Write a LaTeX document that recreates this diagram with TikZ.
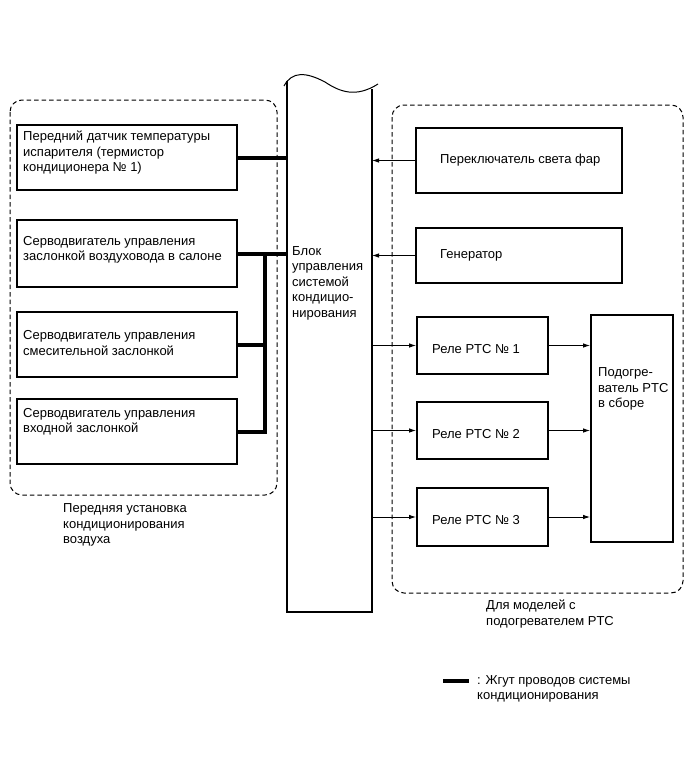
\documentclass[tikz,border=0pt]{standalone}
\usepackage{fontspec}
\setmainfont{Liberation Sans}
\usetikzlibrary{arrows.meta,positioning,calc}

\begin{document}
\begin{tikzpicture}[
  x=1pt, y=-1pt,
  font=\fontsize{13}{15.5}\selectfont,
  blk/.style={draw, line width=1.8pt, inner sep=0pt},
  txt/.style={align=left, anchor=west, inner sep=0pt},
  grp/.style={dash pattern=on 4.5pt off 3pt, line width=1pt, rounded corners=12pt},
  harness/.style={line width=4pt},
  sig/.style={-{Latex[length=7pt,width=4.5pt]}, line width=0.9pt},
]
\useasboundingbox (0,0) rectangle (691,760);
% groups
\draw[grp] (10,100) rectangle (277,495);
\draw[grp] (392,105) rectangle (683,593);
% control unit (open top)
\coordinate (ecuL) at (287,0);
\coordinate (ecuR) at (372,0);
\draw[line width=1.8pt] (287,81) -- (287,612) -- (372,612) -- (372,89);
\draw[line width=1pt] (284,86) .. controls (292,71) and (306,72) .. (325,82)
  .. controls (340,92) and (356,98) .. (378,84);
\node[txt] (ecu-t) at (292,283) {Блок\\управления\\системой\\кондицио-\\нирования};
% front unit
\node[blk, minimum width=220, minimum height=65] (sensor) at (127,157.5) {};
\node[blk, minimum width=220, minimum height=67] (srv1) at (127,253.5) {};
\node[blk, minimum width=220, minimum height=65] (srv2) at (127,344.5) {};
\node[blk, minimum width=220, minimum height=65] (srv3) at (127,431.5) {};
\node[txt] (sensor-t) at (23,153) {Передний датчик температуры\\испарителя (термистор\\кондиционера № 1)};
\node[txt] (srv1-t) at (23,250) {Серводвигатель управления\\заслонкой воздуховода в салоне};
\node[txt] (srv2-t) at (23,343) {Серводвигатель управления\\смесительной заслонкой};
\node[txt] (srv3-t) at (23,422) {Серводвигатель управления\\входной заслонкой};
\node[txt] (front-t) at (63,525) {Передняя установка\\кондиционирования\\воздуха};
% harness
\coordinate (bus) at (265,0);
\draw[harness] (sensor.east) -- (sensor.east -| ecuL);
\draw[harness] (srv1.east) -- (srv1.east -| ecuL);
\draw[harness] (srv2.east) -- (srv2.east -| bus);
\draw[harness] (srv3.east) -- (srv3.east -| bus) -- (srv1.east -| bus);
% PTC models
\node[blk, minimum width=206, minimum height=65] (lamp) at (519,160.5) {};
\node[blk, minimum width=206, minimum height=55] (gen) at (519,255.5) {};
\node[txt] (lamp-t) at (440,160) {Переключатель света фар};
\node[txt] (gen-t) at (440,255) {Генератор};
\node[blk, minimum width=131, minimum height=57] (relay1) at (482.5,345.5) {};
\node[blk, minimum width=131, minimum height=57] (relay2) at (482.5,430.5) {};
\node[blk, minimum width=131, minimum height=58] (relay3) at (482.5,517) {};
\node[txt] (relay1-t) at (432,349) {Реле PTC № 1};
\node[txt] (relay2-t) at (432,434) {Реле PTC № 2};
\node[txt] (relay3-t) at (432,520) {Реле PTC № 3};
\node[blk, minimum width=82, minimum height=227] (heater) at (632,428.5) {};
\node[txt] (heater-t) at (598,389) {Подогре-\\ватель PTC\\в сборе};
\node[txt] (ptc-t) at (486,614) {Для моделей с\\подогревателем PTC};
\draw[sig] (lamp.west) -- (lamp.west -| ecuR);
\draw[sig] (gen.west) -- (gen.west -| ecuR);
\foreach \r in {relay1,relay2,relay3}{
  \draw[sig] (\r.west -| ecuR) -- (\r.west);
  \draw[sig] (\r.east) -- (\r.east -| heater.west);
}
% legend
\coordinate (leg-a) at (443,681);
\coordinate (leg-b) at (469,681);
\draw[harness] (leg-a) -- (leg-b);
\node[txt] (leg-t) at (477,689) {: Жгут проводов системы\\кондиционирования};
\end{tikzpicture}
\end{document}
